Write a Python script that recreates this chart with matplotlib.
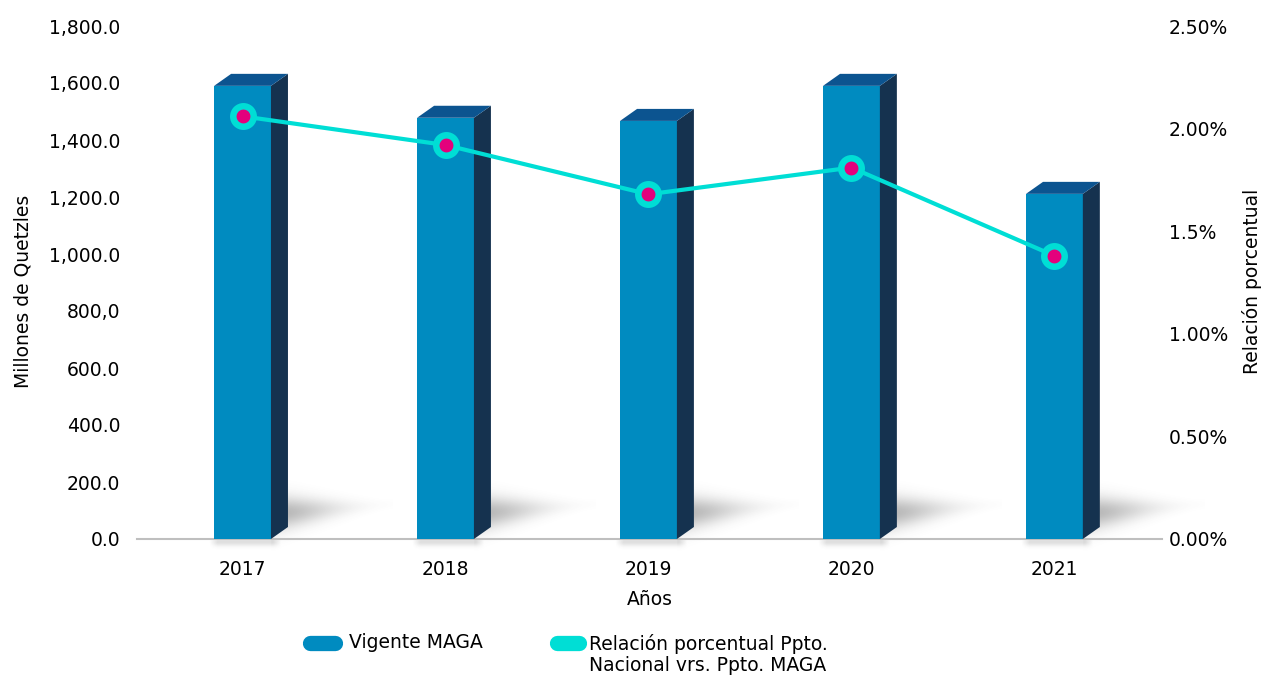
import numpy as np
import matplotlib
matplotlib.use("Agg")
import matplotlib.pyplot as plt
from matplotlib.patches import Polygon
from matplotlib.lines import Line2D

# ---------------- data ----------------
years = ['2017', '2018', '2019', '2020', '2021']
vigente = [1590, 1478, 1467, 1590, 1211]          # Millones de Quetzales
relacion = [2.06, 1.92, 1.68, 1.81, 1.38]          # %
left_ticks = [0, 200, 400, 600, 800, 1000, 1200, 1400, 1600, 1800]
left_labels = ['0.0', '200.0', '400.0', '600.0', '800,0', '1,000.0',
               '1,200.0', '1,400.0', '1,600.0', '1,800.0']
right_ticks = [0, 0.5, 1.0, 1.5, 2.0, 2.5]
right_labels = ['0.00%', '0.50%', '1.00%', '1.5%', '2.00%', '2.50%']
series_names = ['Vigente MAGA', 'Relación porcentual Ppto.\nNacional vrs. Ppto. MAGA']

# ---------------- style ----------------
C_FRONT = '#008BC0'
C_SIDE = '#15324F'
C_TOP = '#0C5490'
C_LINE = '#00DED5'
C_DOT = '#E4007C'
FS = 13.5

W, H = 1263, 678
fig = plt.figure(figsize=(W / 100, H / 100), dpi=100)
ax_l, ax_r, ax_t, ax_b = 137, 1162, 26, 539
ax = fig.add_axes([ax_l / W, (H - ax_b) / H, (ax_r - ax_l) / W, (ax_b - ax_t) / H])

x = np.arange(len(years))
bw = 0.28
xlim = (-0.52, 4.53)
ylim = (0, 1800)
px_per_x = (ax_r - ax_l) / (xlim[1] - xlim[0])
px_per_y = (ax_b - ax_t) / (ylim[1] - ylim[0])
dx = 17 / px_per_x
dy = 12 / px_per_y

# soft shadows
for xi, v in zip(x, vigente):
    x0, x1 = xi - bw / 2, xi + bw / 2
    ex0, ex1 = x0 - 0.05, x1 + 0.6
    ey0, ey1 = -45, 240
    nu, nv = 200, 160
    us = np.linspace(ex0, ex1, nu)
    vs = np.linspace(ey1, ey0, nv)
    U, V = np.meshgrid(us, vs)
    upx = (U - x1) * px_per_x
    vpx = V * px_per_y
    up = np.clip(upx, 0, None)
    sig = np.clip(17 - 0.11 * up, 5, None)
    a = 0.42 * np.exp(-(up / 62) ** 2) * np.exp(-((vpx - 25 - 0.08 * up) / sig) ** 2)
    a = np.where(upx < 0, 0, a)
    ufr = (U - x0) * px_per_x
    below = 0.18 * np.exp(-((vpx + 3) / 4) ** 2) * np.clip(np.minimum(ufr + 5, (x1 - U) * px_per_x + 10) / 8, 0, 1)
    below = np.where(vpx < 0, below, 0)
    a = np.clip(a + below, 0, 1)
    img = np.zeros((nv, nu, 4))
    img[..., :3] = 0.3
    img[..., 3] = a
    ax.imshow(img, extent=[ex0, ex1, ey0, ey1], aspect='auto', zorder=1,
              interpolation='bilinear', clip_on=False)

# 3D bars
ax.bar(x, vigente, width=bw, color=C_FRONT, zorder=3, linewidth=0)
for xi, v in zip(x, vigente):
    x0, x1 = xi - bw / 2, xi + bw / 2
    side = Polygon([(x1, 0), (x1 + dx, dy), (x1 + dx, v + dy), (x1, v)],
                   closed=True, facecolor=C_SIDE, edgecolor='none', zorder=3)
    top = Polygon([(x0, v), (x0 + dx, v + dy), (x1 + dx, v + dy), (x1, v)],
                  closed=True, facecolor=C_TOP, edgecolor='none', zorder=3)
    ax.add_patch(side)
    ax.add_patch(top)

ax.axhline(0, color='#BFBFBF', lw=1.5, zorder=2, clip_on=False)
ax.set_xlim(*xlim)
ax.set_ylim(*ylim)
for s in ax.spines.values():
    s.set_visible(False)
ax.set_yticks(left_ticks)
ax.set_yticklabels(left_labels, fontsize=FS)
ax.set_xticks(x)
ax.set_xticklabels(years, fontsize=FS)
ax.tick_params(axis='y', length=0, pad=12)
ax.tick_params(axis='x', length=0, pad=15)
ax.set_ylabel('Millones de Quetzles', fontsize=FS)
ax.yaxis.set_label_coords(-0.102, 0.483)
ax.set_xlabel('Años', fontsize=FS)
ax.xaxis.set_label_coords(0.5, -0.1)

# line on right axis
ax2 = ax.twinx()
ax2.set_ylim(0, 2.5)
ax2.set_xlim(*xlim)
for s in ax2.spines.values():
    s.set_visible(False)
ax2.plot(x, relacion, color=C_LINE, lw=3.0, marker='o', ms=14.7,
         mfc=C_DOT, mec=C_LINE, mew=4.7, zorder=5, solid_capstyle='round')
ax2.set_yticks(right_ticks)
ax2.set_yticklabels(right_labels, fontsize=FS)
ax2.tick_params(axis='y', length=0, pad=5)
ax2.set_ylabel('Relación porcentual', fontsize=FS)
ax2.yaxis.set_label_coords(1.078, 0.503)

# legend (manual)
def fx(px):
    return px / W

def fy(py):
    return (H - py) / H

legend_y = 643
fig.add_artist(Line2D([fx(310), fx(335)], [fy(legend_y), fy(legend_y)],
                      color=C_FRONT, lw=11, solid_capstyle='round'))
fig.text(fx(349), fy(legend_y), series_names[0], fontsize=FS, va='center', ha='left')
fig.add_artist(Line2D([fx(557), fx(579)], [fy(legend_y), fy(legend_y)],
                      color=C_LINE, lw=11, solid_capstyle='round'))
fig.text(fx(589), fy(legend_y - 9), series_names[1], fontsize=FS, va='top', ha='left',
         linespacing=1.15)

fig.savefig('out.png', dpi=100)
